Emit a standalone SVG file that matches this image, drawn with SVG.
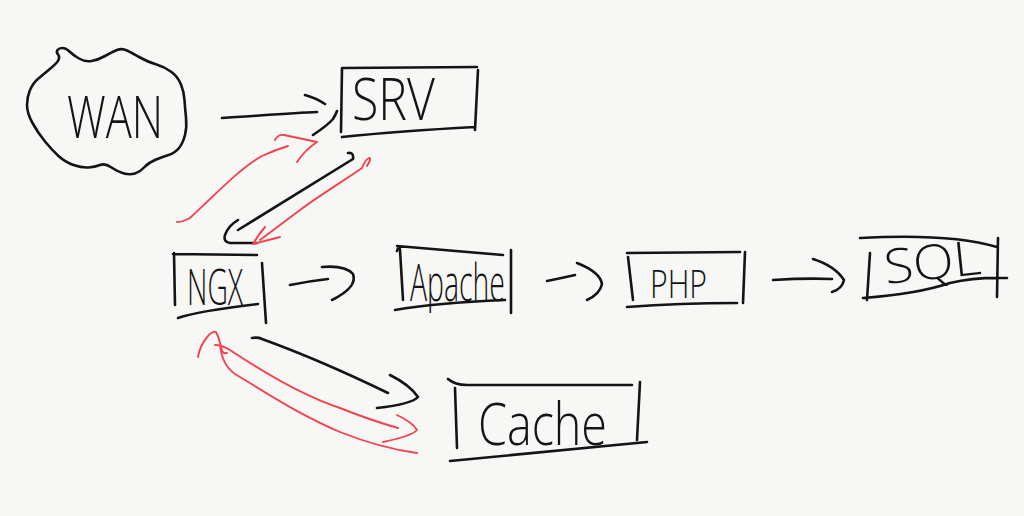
<svg xmlns="http://www.w3.org/2000/svg" width="1024" height="516" viewBox="0 0 1024 516">
<style>
.ink{fill:none;stroke:#141414;stroke-width:2.6;stroke-linecap:round;stroke-linejoin:round}
.red{fill:none;stroke:#f2434f;stroke-width:1.9;stroke-linecap:round;stroke-linejoin:round}
.lbl{font-family:"Open Sans","Liberation Sans",sans-serif;font-weight:300;fill:#141414}
</style>
<rect width="1024" height="516" fill="#f7f7f5"/>
<g id="wan">
<path class="ink" d="M51,68 Q57,63 58.5,60 Q60,57 58,54.5 Q56,52 57.5,50 Q59,48 62.5,48 Q66,48 69.5,51.5 Q73,55 79,58.5 Q85,62 91.5,61 Q98,60 105,56 Q112,52 117,50 Q122,48 127,50.5 Q132,53 140,57.5 Q148,62 156.5,64.5 Q165,67 171.5,72 Q178,77 181,84.5 Q184,92 184.5,100 Q185,108 186,117.5 Q187,127 185,135 Q183,143 179,148 Q175,153 168.5,155 Q162,157 155,160 Q148,163 144,167.5 Q140,172 135,173.5 Q130,175 124,173.5 Q118,172 111.5,167.5 Q105,163 100,165 Q95,167 88.5,167.5 Q82,168 73.5,165 Q65,162 58.5,156 Q52,150 45,141.5 Q38,133 32.5,123 Q27,113 27,105 Q27,97 30,90 Q33,83 39,78 Q45,73 51,68 Z"/>
<text class="lbl" x="67" y="138" font-size="58" textLength="96" lengthAdjust="spacingAndGlyphs">WAN</text>
</g>
<g id="srv">
<path class="ink" d="M342,68 L477,67 M342,68 L341,132 M478,70 L475,130 M342,137 Q400,131 475,127"/>
<text class="lbl" x="352" y="120" font-size="58" textLength="83" lengthAdjust="spacingAndGlyphs">SRV</text>
</g>
<g id="ngx">
<path class="ink" d="M173,254 L257,255 M174,253 L175,305 M178,318 Q198,311 258,304 M262,263 L266,323"/>
<text class="lbl" x="187" y="305" font-size="49" textLength="56" lengthAdjust="spacingAndGlyphs">NGX</text>
</g>
<g id="apache">
<path class="ink" d="M397,246 L503,255 M397,251 Q399,244 400,250 L403,300 M395,310 Q435,303 505,300 M511,250 L511,313"/>
<text class="lbl" x="410" y="301" font-size="52" textLength="95" lengthAdjust="spacingAndGlyphs">Apache</text>
</g>
<g id="php">
<path class="ink" d="M627,253 L740,252 M628,257 L633,300 M627,307 Q680,303 737,303 M745,252 L743,303"/>
<text class="lbl" x="650" y="298" font-size="39" textLength="57" lengthAdjust="spacingAndGlyphs">PHP</text>
</g>
<g id="sql">
<path class="ink" d="M860,238 Q950,233 997,247 M870,253 L867,300 M863,298 Q917,294 950,283 Q975,277 1007,278 M998,238 L997,297"/>
<text class="lbl" x="886" y="284" font-size="48" textLength="97" lengthAdjust="spacingAndGlyphs" transform="rotate(-6 886 284)">SQL</text>
</g>
<g id="cache">
<path class="ink" d="M448,379 Q455,385 467,385 L632,385 M455,388 L457,448 M640,382 L637,440 M450,461 Q510,455 647,442"/>
<text class="lbl" x="478" y="445" font-size="58" textLength="129" lengthAdjust="spacingAndGlyphs">Cache</text>
</g>
<g id="connectors">
<path class="ink" d="M222,118 C255,116 290,113 317,112 M305,95 Q316,98 325,104 M313,135 Q328,125 333,119 Q336,114 337,111"/>
<path class="red" d="M177,222 Q183,222 190,218 C215,195 240,168 262,156 Q275,150 288,146 M275,140 Q278,134 284,135 L317,142 Q305,150 297,162"/>
<path class="ink" d="M348,153 Q354,152 353,159 L238,230 M238,220 Q228,226 225,235 Q223,242 230,243 L257,243"/>
<path class="red" d="M367,166 Q372,158 369,158 Q365,160 362,168 C345,180 320,195 300,210 Q280,225 260,240 M265,227 Q258,235 253,244 L280,237"/>
<path class="ink" d="M290,285 Q310,281 328,279 M322,267 Q345,265 353,274 Q358,287 332,300"/>
<path class="ink" d="M547,281 Q562,278 575,275 M577,263 Q600,272 602,284 Q600,294 587,300"/>
<path class="ink" d="M773,280 Q805,278 832,279 M813,259 Q835,266 844,280 Q842,289 832,292"/>
<path class="ink" d="M252,338 Q258,337 262,339 Q320,360 388,393 M390,375 Q410,385 418,397 Q412,404 377,408"/>
<path class="red" d="M198,357 Q200,345 208,336 Q212,331 216,332 Q220,340 222,351 Q224,354 227,353 M215,345 Q222,345 230,350 C260,370 300,395 340,408 Q370,420 398,428 M220,345 Q222,365 235,374 C270,395 300,415 340,432 Q380,448 417,453 M397,415 Q412,422 417,430 Q412,436 383,442"/>
</g>
</svg>
